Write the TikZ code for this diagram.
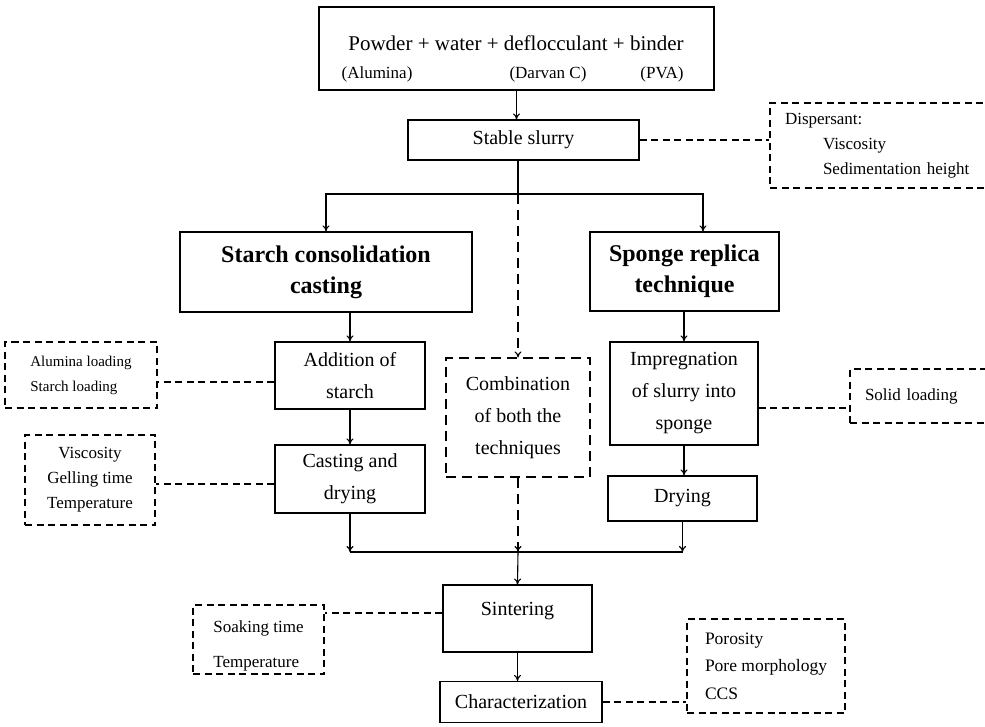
\documentclass[tikz,border=0pt]{standalone}
\usepackage{fontspec}
\setmainfont{Liberation Serif}
\usetikzlibrary{arrows.meta,positioning}

\newcommand{\mainfs}{\fontsize{20}{32}\selectfont}
\newcommand{\subfs}{\fontsize{17}{25}\selectfont}
\newcommand{\headfs}{\fontsize{24}{31}\selectfont\bfseries}

\tikzset{
  box/.style={draw, line width=1.1pt, align=center, font=\mainfs, inner sep=2pt},
  headbox/.style={box, font=\headfs},
  combbox/.style={box, dash pattern=on 10pt off 6pt},
  dbox/.style={draw, line width=1.1pt, dash pattern=on 7pt off 4.5pt, font=\subfs, inner sep=2pt},
  plain/.style={line width=1.1pt},
  link/.style={line width=1.1pt, dash pattern=on 7pt off 4.5pt},
  flow/.style={line width=1.1pt, -{To[length=6pt,width=7pt]}},
  dflow/.style={flow, dash pattern=on 10pt off 6pt},
}

\begin{document}
\begin{tikzpicture}[x=1pt,y=-1pt]
\clip (0,0) rectangle (985,727);

% top of the process
\node[box, minimum width=395pt, minimum height=83pt] (mix) at (516.5,48.5) {};
\node[font=\fontsize{21}{26}\selectfont] (mixtxt) at (516,43) {Powder + water + deflocculant + binder};
\node[font=\subfs] (alum) at (377,74) {(Alumina)};
\node[font=\subfs] (darvan) at (548,74) {(Darvan C)};
\node[font=\subfs] (pva) at (662,74) {(PVA)};

\node[box, minimum width=231pt, minimum height=40pt] (slurry) at (523.5,140) {Stable slurry};
\node[dbox, minimum height=85pt, text width=195pt, inner xsep=15pt, align=left] (disp) at (882.5,145.5)
  {Dispersant:\\\hspace*{38pt}Viscosity\\\hspace*{38pt}Sedimentation height};

% the two routes
\node[headbox, minimum width=292pt, minimum height=80pt] (starch) at (326,272) {Starch consolidation\\casting};
\node[headbox, minimum width=189pt, minimum height=79pt] (sponge) at (684.5,271.5) {Sponge replica\\technique};

\node[box, minimum width=150pt, minimum height=67pt] (add) at (350,375.5) {Addition of\\starch};
\node[box, minimum width=150pt, minimum height=68pt] (cast) at (350,479) {Casting and\\drying};
\node[combbox, minimum width=144pt, minimum height=119pt] (comb) at (518,417.5) {Combination\\of both the\\techniques};
\node[box, minimum width=148pt, minimum height=103pt] (impr) at (684,393.5) {Impregnation\\of slurry into\\sponge};
\node[box, minimum width=149pt, minimum height=45pt] (dry) at (682.5,498.5) {Drying};

% parameters
\node[dbox, minimum width=152pt, minimum height=66pt, align=left, font=\fontsize{15}{25}\selectfont] (loadA) at (81,375) {Alumina loading\\Starch loading};
\node[dbox, minimum width=130pt, minimum height=90pt, align=center, font=\fontsize{17}{25}\selectfont] (viscA) at (90,480) {Viscosity\\Gelling time\\Temperature};
\node[dbox, minimum height=54pt, text width=115pt, inner xsep=15pt, align=left] (solid) at (922.5,396) {Solid loading};

% end of the process
\node[box, minimum width=149pt, minimum height=67pt, text height=14pt, text depth=21pt] (sinter) at (517.5,618.5) {Sintering};
\node[box, minimum width=162pt, minimum height=41pt] (charz) at (521,702) {Characterization};
\node[dbox, minimum width=131pt, minimum height=69pt, align=left, font=\fontsize{17}{35}\selectfont,
  text height=59pt, text depth=4pt] (soak) at (258.5,639.5) {Soaking time\\Temperature};
\node[dbox, minimum width=158pt, minimum height=94pt, align=left, font=\fontsize{17.5}{27.5}\selectfont] (poros) at (766,666) {Porosity\\Pore morphology\\CCS};

\coordinate (split) at (518,194);
\coordinate (spin) at (703,194);
\coordinate (join) at (518,552);
\coordinate[yshift=-6.5pt] (addL) at (add.west);
\coordinate[yshift=-5pt] (castL) at (cast.west);
\coordinate[yshift=-14.5pt] (imprR) at (impr.east);
\coordinate[yshift=5.5pt] (sinterL) at (sinter.west);

% flow
\draw[flow] (mix.south) -- (mix.south |- slurry.north);
\draw[plain] (slurry.south -| split) -- (split);
\draw[flow] (split) -| (starch.north);
\draw[flow] (split) -- (spin) -- (spin |- sponge.north);
\draw[dflow] (split) -- (comb.north);
\draw[flow] (add.north |- starch.south) -- (add.north);
\draw[flow] (add) -- (cast);
\draw[flow] (impr.north |- sponge.south) -- (impr.north);
\draw[flow] (impr.south) -- (impr.south |- dry.north);
\draw[flow] (cast.south) -- (cast.south |- join);
\draw[flow] (dry.south) -- (dry.south |- join);
\draw[plain] (cast.south |- join) -- (dry.south |- join);
\draw[dflow] (comb.south) -- (join);
\draw[flow] (join) -- (sinter.north);
\draw[flow] (sinter.south) -- (sinter.south |- charz.north);

% links to the parameters
\draw[link] (slurry.east) -- (slurry.east -| disp.west);
\draw[link] (addL) -- (addL -| loadA.east);
\draw[link] (castL) -- (castL -| viscA.east);
\draw[link] (imprR) -- (imprR -| solid.west);
\draw[link] (sinterL) -- (sinterL -| soak.east);
\draw[link] (charz.east) -- (charz.east -| poros.west);
\end{tikzpicture}
\end{document}
